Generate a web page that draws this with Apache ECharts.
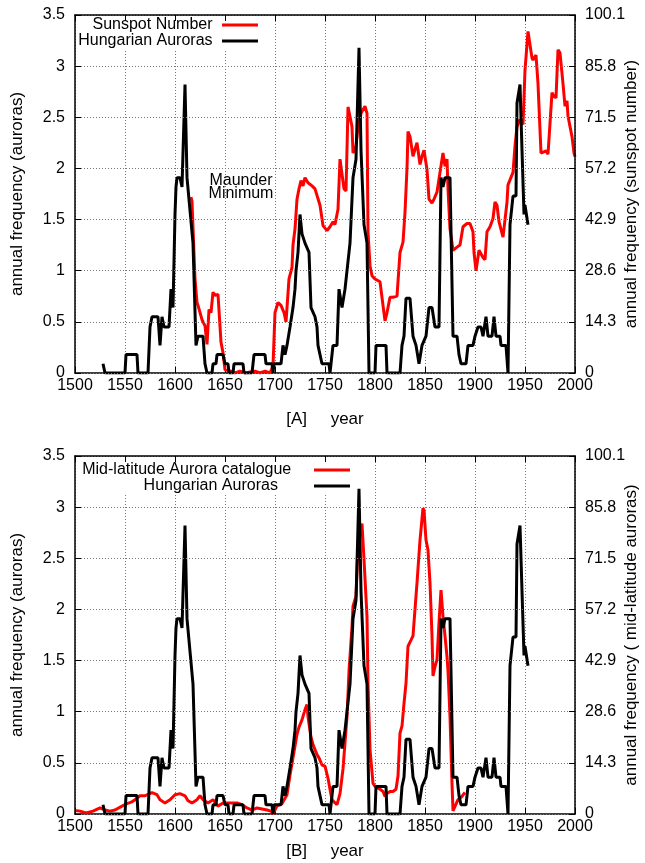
<!DOCTYPE html>
<html><head><meta charset="utf-8">
<script src="https://cdn.jsdelivr.net/npm/echarts@6/dist/echarts.min.js"></script>
<style>html,body{margin:0;padding:0;background:#fff}#c{width:645px;height:863px}</style>
</head><body><div id="c"></div>
<script>
// ---- tick labels ----
const leftTickLabels = ['0','0.5','1','1.5','2','2.5','3','3.5'];
const rightTickLabels = ['0','14.3','28.6','42.9','57.2','71.5','85.8','100.1'];

// ---- Hungarian auroras (annual frequency, left axis) ----
const hunYears = [1528,1530,1550,1551,1562,1563,1573,1575,1577,1583,1585,1587,1589,1594,1596,1598,1600,1601,1602,1605,1607,1610,1612,1613,1618,1621,1623,1628,1630,1632,1637,1638,1641,1642,1648,1650,1653,1654,1658,1659,1668,1669,1677,1678,1679,1690,1691,1697,1698,1699,1706,1708,1710,1712,1715,1718,1720,1721,1723,1725,1727,1730,1732,1734,1736,1740,1742,1743,1745,1747,1754,1755,1756,1758,1762,1764,1767,1770,1775,1778,1781,1784,1786,1789,1792,1794,1800,1801,1811,1812,1825,1827,1829,1831,1835,1838,1841,1844,1847,1851,1853,1854,1857,1860,1864,1866,1868,1870,1875,1878,1882,1884,1886,1891,1893,1898,1900,1903,1906,1908,1911,1913,1917,1919,1921,1925,1926,1931,1933,1935,1938,1941,1942,1945,1947,1949,1950,1952,1953];
const hunVals = [0.09,0,0,0.18,0.18,0,0,0.45,0.55,0.55,0.27,0.55,0.45,0.45,0.82,0.64,1.55,1.82,1.91,1.91,1.82,2.82,1.91,1.91,1.27,0.27,0.36,0.36,0.09,0,0,0.09,0.09,0.18,0.18,0.09,0.09,0,0,0.09,0.09,0,0,0.09,0.18,0.18,0.09,0.09,0,0.09,0.09,0.27,0.18,0.27,0.45,0.64,0.82,1.0,1.18,1.55,1.36,1.27,1.27,1.18,0.64,0.55,0.45,0.27,0.18,0.09,0.09,0,0,0.27,0.27,0.82,0.64,0.82,1.27,1.91,2.09,3.18,2.18,1.45,1.27,0,0,0.27,0.27,0,0,0.27,0.36,0.73,0.73,0.36,0.27,0.09,0.27,0.36,0.36,0.64,0.64,0.45,0.45,1.91,1.82,1.91,1.91,0.36,0.36,0.18,0.09,0.09,0.27,0.27,0.36,0.45,0.45,0.36,0.55,0.36,0.36,0.55,0.36,0.36,0.27,0.27,0,1.45,1.73,1.73,2.64,2.82,2.18,1.55,1.64,1.64,1.45];

// ---- Sunspot number (right axis, panel A) ----
const sunYears = [1616,1617,1620,1622,1623,1627,1630,1632,1634,1636,1638,1640,1643,1646,1648,1650,1655,1660,1665,1670,1675,1680,1685,1690,1695,1698,1700,1703,1706,1709,1711,1714,1717,1718,1720,1722,1724,1726,1728,1730,1733,1737,1740,1745,1748,1752,1755,1758,1760,1763,1765,1767,1769,1771,1773,1775,1777,1778,1781,1783,1786,1790,1792,1793,1795,1797,1800,1805,1808,1810,1812,1815,1818,1822,1825,1828,1830,1832,1833,1835,1838,1842,1845,1847,1849,1852,1854,1857,1859,1862,1865,1868,1870,1872,1873,1875,1878,1882,1885,1888,1892,1895,1898,1899,1901,1904,1908,1910,1912,1915,1918,1920,1922,1924,1928,1930,1932,1933,1935,1938,1940,1942,1945,1948,1950,1953,1957,1958,1961,1963,1966,1968,1971,1973,1977,1978,1981,1983,1985,1988,1990,1992,1993,1995,1997,1999,2000];
const sunVals = [49.2,48.0,26.3,19.7,18.9,14.9,13.2,8.0,17.7,16.9,22.6,21.7,22.0,8.6,5.7,0.9,0.6,0,0.5,0,0.3,0.5,0,0.5,0,2.0,16.9,19.7,18.9,16.9,14.3,26.3,29.5,35.8,40.3,48.6,51.5,53.8,52.3,54.6,53.2,52.3,51.5,46.9,41.2,39.8,40.9,42.3,41.5,45.8,59.8,59.8,51.5,50.9,74.4,74.4,68.9,61.5,63.5,68.6,72.6,74.6,72.6,39.5,30.0,27.2,26.3,25.5,18.9,14.6,16.9,21.2,21.2,21.5,33.7,36.6,44.9,57.2,67.5,66.1,60.6,64.4,58.3,60.6,62.3,56.9,48.6,47.5,48.6,50.6,56.1,61.5,57.8,59.8,51.5,40.3,34.3,35.2,35.8,40.9,41.8,41.8,39.5,33.7,28.6,34.3,32.3,31.7,39.5,40.9,43.2,47.8,46.9,42.3,38.0,38.3,47.8,52.6,52.9,56.1,63.5,68.9,70.9,69.5,84.7,95.5,88.1,87.5,88.9,80.9,61.5,61.5,62.1,61.2,78.4,77.8,76.9,90.4,89.5,80.9,74.6,76.1,71.8,71.8,66.1,61.5,60.5];

// ---- Mid-latitude aurora catalogue (right axis, panel B) ----
const midYears = [1500,1505,1511,1518,1525,1530,1535,1540,1547,1552,1557,1560,1565,1570,1577,1582,1585,1590,1595,1600,1605,1610,1613,1617,1622,1625,1628,1633,1638,1643,1648,1655,1662,1667,1672,1677,1682,1687,1692,1696,1698,1702,1707,1712,1715,1718,1722,1724,1727,1730,1732,1733,1736,1738,1742,1744,1747,1750,1753,1755,1757,1759,1762,1765,1768,1772,1774,1777,1778,1781,1783,1787,1789,1792,1793,1795,1798,1800,1802,1805,1808,1810,1812,1815,1818,1821,1823,1825,1827,1829,1831,1833,1836,1838,1842,1845,1848,1849,1851,1853,1855,1857,1858,1860,1862,1864,1866,1868,1870,1872,1873,1875,1877,1878,1880,1883,1887,1889,1890];
const midVals = [1.0,0.8,0.3,0.8,1.7,1.1,0.8,1.1,2.2,2.9,3.4,4.0,5.1,5.1,6.0,5.4,4.0,3.1,4.0,5.4,5.7,5.1,3.7,3.1,4.0,5.1,4.0,3.1,4.0,2.2,3.1,3.1,3.1,2.6,1.7,1.1,1.7,1.4,1.1,0.8,0,2.3,2.9,5.4,10.9,15.7,22.3,24.3,26.3,29.2,30.6,27.2,21.5,19.4,16.6,15.7,13.7,13.4,10.0,6.9,4.0,3.4,2.6,5.7,12.6,27.2,40.0,52.3,58.1,60.9,74.9,81.2,71.2,55.2,36.6,18.0,8.6,7.7,7.9,6.9,6.3,4.9,5.7,6.3,6.3,6.9,10.6,22.6,24.6,30.9,36.6,46.9,48.6,49.8,64.6,76.6,85.5,84.9,76.6,73.8,64.6,49.8,38.6,41.2,43.2,53.5,62.6,55.2,49.8,44.0,40.0,27.2,8.6,0.9,1.1,4.0,4.9,5.7,6.0];

const pair = (ys, vs) => ys.map((y, i) => [y, vs[i]]);

const FONT = 'Liberation Sans';
const txt = {color:'#000', fontFamily:FONT, fontSize:16};
const gridLine = {show:true, lineStyle:{color:'#777', type:[1,2], width:1}};

function xAxes(gi, name, gap) {
  return [
    {gridIndex:gi, type:'value', min:1500, max:2000, interval:50, position:'bottom',
     name:name, nameLocation:'middle', nameGap:gap, nameTextStyle:{...txt, fontSize:17},
     nameMoveOverlap:false,
     axisLine:{show:true, onZero:false, lineStyle:{color:'#000', width:1.5}},
     axisTick:{inside:true, length:6, lineStyle:{color:'#000'}},
     axisLabel:{...txt, margin:5, formatter:v=>String(v)},
     splitLine:gridLine},
    {gridIndex:gi, type:'value', min:1500, max:2000, interval:50, position:'top', z:5,
     axisLine:{show:true, onZero:false, lineStyle:{color:'#000', width:1.5}},
     axisTick:{inside:true, length:6, lineStyle:{color:'#000'}},
     axisLabel:{show:false}, splitLine:{show:false}}
  ];
}
function yAxes(gi, rightName) {
  return [
    {gridIndex:gi, type:'value', min:0, max:3.5, interval:0.5, position:'left', z:5,
     name:'annual frequency (auroras)', nameLocation:'middle', nameGap:49, nameRotate:90,
     nameTextStyle:{...txt, fontSize:17}, nameMoveOverlap:false,
     axisLine:{show:true, onZero:false, lineStyle:{color:'#000', width:1.5}},
     axisTick:{inside:true, length:6, lineStyle:{color:'#000'}},
     axisLabel:{...txt, margin:10, formatter:(v,i)=>leftTickLabels[i]},
     splitLine:gridLine},
    {gridIndex:gi, type:'value', min:0, max:100.1, interval:14.3, position:'right', z:5,
     name:rightName, nameLocation:'middle', nameGap:48, nameRotate:90,
     nameTextStyle:{...txt, fontSize:17}, nameMoveOverlap:false,
     axisLine:{show:true, onZero:false, lineStyle:{color:'#000', width:1.5}},
     axisTick:{inside:true, length:6, lineStyle:{color:'#000'}},
     axisLabel:{...txt, margin:10, formatter:(v,i)=>rightTickLabels[i]},
     splitLine:{show:false}}
  ];
}

const lineBase = {type:'line', showSymbol:false, symbol:'none', animation:false, silent:true};

const chart = echarts.init(document.getElementById('c'), null, {renderer:'canvas'});
chart.setOption({
  animation:false,
  backgroundColor:'#fff',
  grid:[
    {left:75, top:15, width:500, height:358, containLabel:false, outerBoundsMode:'none'},
    {left:75, top:456, width:500, height:358, containLabel:false, outerBoundsMode:'none'}
  ],
  xAxis:[...xAxes(0, '[A]     year', 38), ...xAxes(1, '[B]     year', 29)],
  yAxis:[...yAxes(0, 'annual frequency (sunspot number)'), ...yAxes(1, 'annual frequency ( mid-latitude auroras)')],
  legend:[
    {orient:'vertical', align:'right', right:383, top:17, itemGap:0, itemWidth:36, itemHeight:3,
     icon:'rect', selectedMode:false, backgroundColor:'#fff', padding:[0,4,0,1],
     textStyle:{...txt, lineHeight:16},
     formatter:n=>n+' ',
     data:['Sunspot Number','Hungarian Auroras']},
    {orient:'vertical', align:'right', right:290, top:458, itemGap:0, itemWidth:36, itemHeight:3,
     icon:'rect', selectedMode:false, backgroundColor:'#fff', padding:[4,5,0,5],
     textStyle:{...txt, lineHeight:14},
     formatter:n=>n==='Mid-latitude Aurora catalogue' ? n+'    ' : n+'       ',
     data:['Mid-latitude Aurora catalogue',{name:'Hungarian Auroras'}]}
  ],
  series:[
    {...lineBase, name:'Sunspot Number', xAxisIndex:0, yAxisIndex:1,
     data:pair(sunYears, sunVals), lineStyle:{color:'#ff0000', width:3}, itemStyle:{color:'#ff0000'}},
    {...lineBase, name:'Hungarian Auroras', xAxisIndex:0, yAxisIndex:0,
     data:pair(hunYears, hunVals), lineStyle:{color:'#000', width:3}, itemStyle:{color:'#000'},
     markPoint:{symbol:'circle', symbolSize:1, silent:true, animation:false,
       itemStyle:{color:'rgba(0,0,0,0)'},
       label:{show:true, position:'inside', formatter:'Maunder\nMinimum', ...txt, lineHeight:13},
       data:[{coord:[1666, 1.82]}]}},
    {...lineBase, name:'Mid-latitude Aurora catalogue', xAxisIndex:2, yAxisIndex:3,
     data:pair(midYears, midVals), lineStyle:{color:'#ff0000', width:3}, itemStyle:{color:'#ff0000'}},
    {...lineBase, name:'Hungarian Auroras', xAxisIndex:2, yAxisIndex:2,
     data:pair(hunYears, hunVals), lineStyle:{color:'#000', width:3}, itemStyle:{color:'#000'}}
  ]
});
</script></body></html>
